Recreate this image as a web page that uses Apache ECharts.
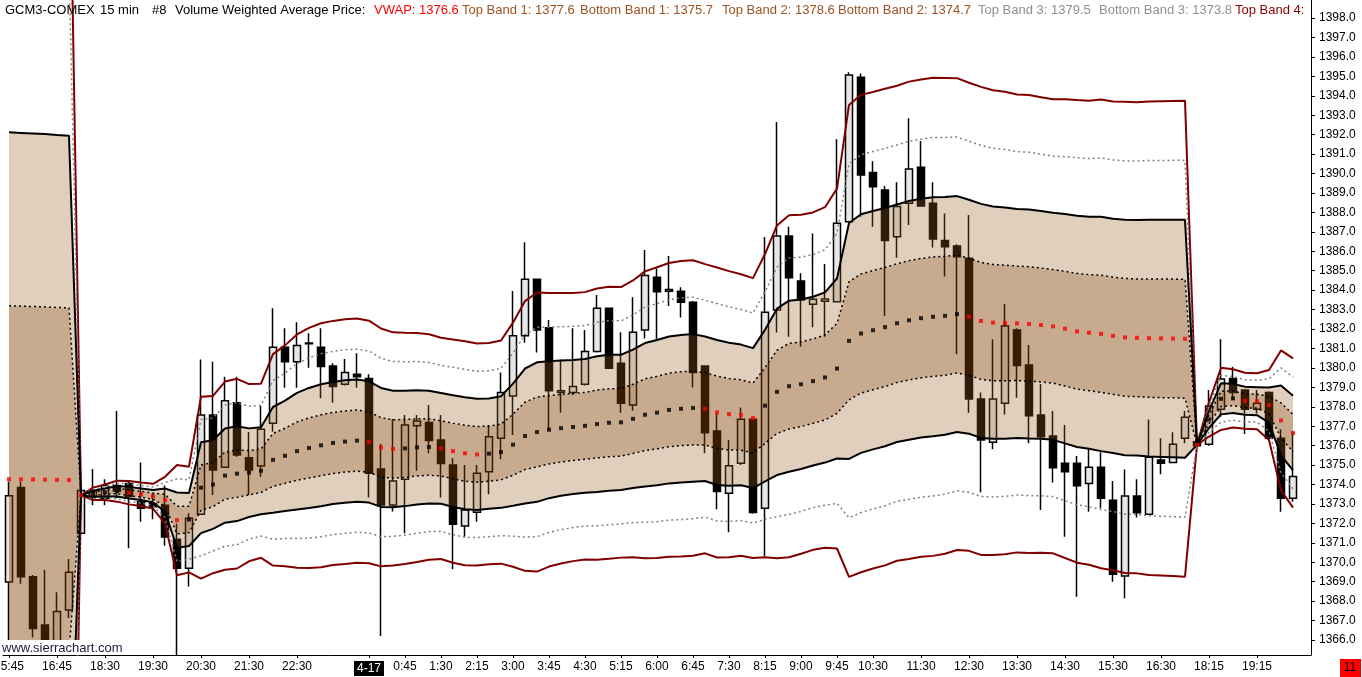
<!DOCTYPE html>
<html><head><meta charset="utf-8">
<script src="https://cdn.jsdelivr.net/npm/echarts@6/dist/echarts.min.js"></script>
<style>html,body{margin:0;padding:0;background:#fff}#c{width:1362px;height:677px}</style>
</head><body><div id="c"></div>
<script>
const times = ['15:45','16:00','16:15','16:30','16:45','17:00','18:00','18:15','18:30','18:45',
'19:00','19:15','19:30','19:45','20:00','20:15','20:30','20:45','21:00','21:15',
'21:30','21:45','22:00','22:15','22:30','22:45','23:00','23:15','23:30','23:45',
'4-17','0:15','0:30','0:45','1:00','1:15','1:30','1:45','2:00','2:15',
'2:30','2:45','3:00','3:15','3:30','3:45','4:00','4:15','4:30','4:45',
'5:00','5:15','5:30','5:45','6:00','6:15','6:30','6:45','7:00','7:15',
'7:30','7:45','8:00','8:15','8:30','8:45','9:00','9:15','9:30','9:45',
'10:00','10:15','10:30','10:45','11:00','11:15','11:30','11:45','12:00','12:15',
'12:30','12:45','13:00','13:15','13:30','13:45','14:00','14:15','14:30','14:45',
'15:00','15:15','15:30','15:45','16:00','16:15','16:30','16:45','17:00','18:00',
'18:15','18:30','18:45','19:00','19:15','19:30','19:45','20:00',''];
const labelIdx = [0,4,8,12,16,20,24,30,33,36,39,42,45,48,51,54,57,60,63,66,69,72,76,80,84,88,92,96,100,104];
const yTicks = [1366,1367,1368,1369,1370,1371,1372,1373,1374,1375,1376,1377,1378,1379,1380,1381,1382,1383,1384,1385,1386,1387,1388,1389,1390,1391,1392,1393,1394,1395,1396,1397,1398];

const opens = [1368.98,1373.85,1369.25,1366.77,1365.9,1367.54,1371.49,1373.4,1373.3,1373.95,
1374.06,1373.12,1373.03,1372.93,1371.18,1369.69,1372.47,1377.58,1374.89,1378.21,
1375.38,1374.95,1377.15,1381.06,1380.32,1381.28,1381.06,1380.1,1379.16,1379.67,
1379.46,1374.8,1372.95,1374.27,1377.03,1377.19,1376.29,1375.01,1371.87,1372.57,
1374.66,1376.38,1378.56,1381.66,1384.56,1382.07,1378.73,1378.73,1379.16,1380.84,
1383.07,1380.24,1378.09,1381.95,1384.66,1383.94,1383.94,1383.38,1380.1,1376.76,
1373.55,1375.09,1377.36,1372.78,1382.98,1386.79,1384.47,1383.27,1383.43,1383.41,
1387.52,1394.95,1390.06,1389.15,1386.75,1388.47,1390.32,1388.47,1386.56,1386.27,
1385.64,1378.4,1376.17,1378.18,1381.95,1380.15,1377.58,1376.5,1375.09,1375.09,
1374.06,1374.89,1373.19,1369.3,1373.41,1372.47,1375.26,1375.14,1376.38,1376.2,
1376.07,1377.87,1379.46,1378.86,1377.87,1378.74,1376.38,1373.29];
const closes = [1373.42,1369.25,1366.59,1365.9,1367.47,1369.49,1373.7,1373.65,1373.95,1373.65,
1373.38,1372.78,1372.86,1371.3,1369.69,1372.26,1377.58,1374.75,1378.31,1375.52,
1374.75,1376.84,1381.06,1380.32,1381.16,1381.25,1380.07,1379.04,1379.76,1379.55,
1374.58,1372.95,1374.18,1377.06,1377.27,1376.26,1375.08,1371.96,1372.69,1374.58,
1376.46,1378.73,1381.66,1384.56,1381.95,1378.83,1378.83,1379.04,1380.84,1383.07,
1379.98,1378.18,1381.83,1384.76,1383.92,1384.04,1383.38,1379.76,1376.67,1373.64,
1374.97,1377.36,1372.56,1382.86,1386.79,1384.64,1383.5,1383.53,1383.55,1387.44,
1395.07,1389.92,1389.32,1386.55,1388.3,1390.23,1388.33,1386.63,1386.24,1385.72,
1378.4,1376.29,1378.4,1382.16,1380.12,1377.54,1376.46,1374.87,1374.66,1373.94,
1374.89,1373.29,1369.38,1373.41,1372.55,1375.4,1375.09,1376.07,1377.46,1376.0,
1378.04,1379.43,1378.74,1377.87,1378.18,1376.38,1373.29,1374.42];
const lows = [1365.2,1368.9,1366.13,1365.3,1365.5,1367.14,1371.45,1372.93,1372.93,1373.3,
1370.72,1372.09,1372.21,1370.85,1365.2,1368.75,1372.45,1373.46,1374.85,1375.43,
1373.46,1374.4,1376.72,1378.98,1378.98,1380.01,1378.44,1378.21,1379.1,1378.98,
1373.33,1366.21,1372.61,1371.49,1374.71,1375.61,1373.33,1369.64,1371.32,1372.09,
1373.5,1375.3,1376.55,1381.3,1380.79,1376.81,1377.7,1378.61,1379.1,1380.8,
1379.95,1377.7,1377.8,1381.52,1381.44,1383.19,1382.6,1378.99,1375.61,1372.73,
1371.54,1375.0,1372.5,1370.33,1381.82,1381.61,1381.09,1382.09,1381.61,1383.4,
1387.5,1387.78,1387.27,1382.67,1385.67,1387.35,1388.3,1386.19,1384.7,1380.7,
1377.7,1373.6,1375.81,1377.61,1378.47,1376.12,1372.69,1374.1,1371.32,1368.23,
1372.6,1372.78,1369.0,1368.15,1372.31,1372.45,1374.53,1375.1,1376.12,1375.85,
1376.0,1377.49,1378.35,1376.6,1377.66,1376.29,1372.6,1373.12];
const highs = [1374.16,1374.16,1369.35,1369.62,1368.46,1370.17,1374.0,1374.8,1374.27,1377.78,
1374.15,1375.14,1373.55,1373.95,1372.0,1372.52,1380.44,1380.32,1379.55,1379.55,
1376.7,1378.04,1383.07,1382.04,1382.35,1381.78,1382.04,1380.24,1380.46,1380.75,
1379.67,1376.09,1377.37,1377.58,1377.58,1378.09,1377.58,1375.35,1375.01,1375.01,
1377.06,1379.77,1383.96,1386.46,1384.6,1382.47,1380.44,1382.04,1381.95,1383.75,
1383.1,1381.83,1383.63,1386.07,1385.12,1385.76,1384.15,1383.44,1380.1,1377.67,
1376.29,1377.97,1377.4,1386.73,1392.65,1387.27,1384.87,1386.92,1385.35,1391.76,
1395.21,1395.15,1390.64,1389.36,1389.55,1392.84,1391.67,1389.55,1387.95,1386.36,
1387.87,1378.74,1381.47,1383.29,1382.04,1381.18,1379.17,1377.78,1377.06,1375.47,
1375.86,1375.66,1374.18,1374.78,1374.27,1377.35,1376.38,1376.69,1377.78,1376.45,
1378.86,1381.47,1380.06,1378.9,1378.86,1378.8,1376.84,1376.69];

const vwap = [1374.28,1374.27,1374.26,1374.25,1374.24,1374.23,1373.45,1373.52,1373.6,1373.66,
1373.58,1373.5,1373.4,1373.2,1372.17,1372.2,1373.84,1374.0,1374.46,1374.56,
1374.61,1374.71,1375.27,1375.48,1375.72,1375.88,1376.02,1376.14,1376.21,1376.26,
1376.19,1375.91,1375.83,1375.86,1375.91,1375.93,1375.86,1375.72,1375.61,1375.55,
1375.59,1375.67,1376.05,1376.5,1376.7,1376.82,1376.9,1376.96,1377.02,1377.11,
1377.18,1377.2,1377.38,1377.59,1377.7,1377.84,1377.9,1377.94,1377.9,1377.71,
1377.62,1377.58,1377.42,1378.06,1378.77,1379.06,1379.16,1379.32,1379.51,1379.97,
1381.39,1381.77,1381.94,1382.1,1382.3,1382.45,1382.56,1382.63,1382.68,1382.77,
1382.63,1382.42,1382.33,1382.31,1382.29,1382.26,1382.21,1382.14,1382.02,1381.88,
1381.81,1381.75,1381.65,1381.57,1381.55,1381.53,1381.52,1381.51,1381.5,1376.04,
1377.35,1378.41,1378.43,1378.31,1378.29,1378.09,1377.3,1376.65];
const band1Top = [1383.2,1383.18,1383.16,1383.14,1383.11,1383.09,1373.45,1373.6,1373.7,1373.8,
1373.73,1373.65,1373.56,1373.5,1372.88,1372.88,1375.01,1375.14,1375.67,1375.78,
1375.75,1375.83,1376.63,1376.9,1377.22,1377.43,1377.59,1377.71,1377.79,1377.83,
1377.75,1377.44,1377.33,1377.35,1377.38,1377.38,1377.28,1377.16,1377.05,1376.98,
1377.01,1377.11,1377.62,1378.24,1378.5,1378.58,1378.64,1378.69,1378.74,1378.86,
1378.93,1378.94,1379.16,1379.44,1379.57,1379.73,1379.8,1379.84,1379.76,1379.58,
1379.46,1379.39,1379.22,1380.01,1380.91,1381.26,1381.34,1381.49,1381.7,1382.29,
1384.43,1384.84,1385.01,1385.17,1385.36,1385.52,1385.63,1385.71,1385.74,1385.81,
1385.64,1385.43,1385.32,1385.29,1385.24,1385.21,1385.14,1385.06,1384.97,1384.86,
1384.8,1384.77,1384.67,1384.6,1384.58,1384.58,1384.57,1384.57,1384.56,1376.04,
1377.57,1378.81,1378.81,1378.67,1378.65,1378.54,1378.2,1377.61];
const band1Bot = [1365.36,1365.36,1365.36,1365.36,1365.37,1365.37,1373.45,1373.44,1373.5,1373.53,
1373.43,1373.35,1373.24,1372.9,1371.46,1371.52,1372.67,1372.86,1373.25,1373.34,
1373.47,1373.59,1373.91,1374.06,1374.22,1374.34,1374.45,1374.57,1374.64,1374.69,
1374.63,1374.38,1374.33,1374.37,1374.44,1374.48,1374.44,1374.29,1374.17,1374.12,
1374.17,1374.24,1374.48,1374.77,1374.91,1375.06,1375.16,1375.24,1375.3,1375.37,
1375.43,1375.46,1375.6,1375.75,1375.83,1375.95,1376.0,1376.04,1376.04,1375.85,
1375.78,1375.77,1375.62,1376.11,1376.63,1376.86,1376.98,1377.15,1377.32,1377.66,
1378.36,1378.7,1378.88,1379.04,1379.25,1379.38,1379.49,1379.56,1379.62,1379.74,
1379.62,1379.41,1379.34,1379.34,1379.35,1379.32,1379.28,1379.22,1379.07,1378.91,
1378.83,1378.74,1378.64,1378.54,1378.52,1378.49,1378.47,1378.46,1378.44,1376.04,
1377.13,1378.01,1378.06,1377.95,1377.93,1377.64,1376.4,1375.69];
const band2Top = [1392.12,1392.09,1392.06,1392.03,1391.98,1391.95,1373.45,1373.68,1373.8,1373.93,
1373.88,1373.8,1373.72,1373.8,1373.59,1373.56,1376.18,1376.28,1376.88,1377.0,
1376.89,1376.95,1377.99,1378.32,1378.72,1378.97,1379.16,1379.28,1379.36,1379.4,
1379.31,1378.97,1378.83,1378.83,1378.85,1378.83,1378.71,1378.59,1378.49,1378.41,
1378.43,1378.54,1379.19,1379.97,1380.29,1380.34,1380.38,1380.41,1380.46,1380.6,
1380.68,1380.68,1380.94,1381.28,1381.44,1381.62,1381.7,1381.74,1381.62,1381.44,
1381.3,1381.2,1381.02,1381.96,1383.05,1383.46,1383.52,1383.66,1383.89,1384.6,
1387.46,1387.91,1388.07,1388.23,1388.41,1388.59,1388.7,1388.78,1388.8,1388.84,
1388.65,1388.44,1388.31,1388.26,1388.18,1388.15,1388.07,1387.98,1387.92,1387.83,
1387.78,1387.78,1387.68,1387.63,1387.61,1387.62,1387.62,1387.62,1387.62,1376.04,
1377.79,1379.21,1379.18,1379.03,1379.01,1378.99,1379.1,1378.57];
const band2Bot = [1356.44,1356.45,1356.46,1356.47,1356.5,1356.51,1373.45,1373.36,1373.4,1373.39,
1373.28,1373.2,1373.08,1372.6,1370.75,1370.84,1371.5,1371.72,1372.04,1372.12,
1372.33,1372.47,1372.55,1372.64,1372.72,1372.79,1372.88,1373.0,1373.06,1373.12,
1373.07,1372.85,1372.83,1372.89,1372.97,1373.03,1373.01,1372.85,1372.73,1372.69,
1372.75,1372.8,1372.91,1373.03,1373.11,1373.3,1373.42,1373.51,1373.58,1373.62,
1373.68,1373.72,1373.82,1373.9,1373.96,1374.06,1374.1,1374.14,1374.18,1373.98,
1373.94,1373.96,1373.82,1374.16,1374.49,1374.66,1374.8,1374.98,1375.13,1375.34,
1375.32,1375.63,1375.81,1375.97,1376.19,1376.31,1376.42,1376.48,1376.56,1376.7,
1376.61,1376.4,1376.35,1376.36,1376.4,1376.37,1376.35,1376.3,1376.12,1375.93,
1375.84,1375.72,1375.62,1375.51,1375.49,1375.44,1375.42,1375.4,1375.38,1376.04,
1376.91,1377.61,1377.68,1377.59,1377.57,1377.19,1375.5,1374.73];
const band3Top = [1401.04,1401.0,1400.96,1400.92,1400.85,1400.81,1373.45,1373.76,1373.9,1374.07,
1374.03,1373.95,1373.88,1374.1,1374.3,1374.24,1377.35,1377.42,1378.09,1378.22,
1378.03,1378.07,1379.35,1379.74,1380.22,1380.52,1380.73,1380.85,1380.94,1380.97,
1380.87,1380.5,1380.33,1380.32,1380.33,1380.28,1380.13,1380.03,1379.93,1379.83,
1379.86,1379.98,1380.76,1381.71,1382.09,1382.1,1382.12,1382.14,1382.18,1382.35,
1382.43,1382.42,1382.72,1383.13,1383.31,1383.51,1383.6,1383.64,1383.48,1383.31,
1383.14,1383.01,1382.82,1383.91,1385.19,1385.66,1385.7,1385.83,1386.08,1386.92,
1390.5,1390.98,1391.14,1391.3,1391.47,1391.66,1391.77,1391.86,1391.86,1391.88,
1391.66,1391.45,1391.3,1391.24,1391.13,1391.1,1391.0,1390.9,1390.87,1390.81,
1390.77,1390.8,1390.7,1390.66,1390.64,1390.67,1390.67,1390.68,1390.68,1376.04,
1378.01,1379.61,1379.56,1379.39,1379.37,1379.44,1380.0,1379.53];
const band3Bot = [1347.52,1347.54,1347.56,1347.58,1347.63,1347.65,1373.45,1373.28,1373.3,1373.26,
1373.13,1373.05,1372.92,1372.3,1370.04,1370.16,1370.33,1370.58,1370.83,1370.9,
1371.19,1371.35,1371.19,1371.22,1371.22,1371.25,1371.31,1371.43,1371.49,1371.55,
1371.51,1371.32,1371.33,1371.4,1371.49,1371.58,1371.59,1371.42,1371.29,1371.27,
1371.32,1371.37,1371.34,1371.3,1371.32,1371.54,1371.68,1371.79,1371.86,1371.88,
1371.93,1371.98,1372.04,1372.06,1372.09,1372.17,1372.2,1372.24,1372.32,1372.12,
1372.1,1372.15,1372.02,1372.21,1372.35,1372.46,1372.62,1372.81,1372.94,1373.03,
1372.29,1372.56,1372.75,1372.91,1373.14,1373.24,1373.35,1373.41,1373.5,1373.67,
1373.6,1373.39,1373.36,1373.39,1373.46,1373.43,1373.42,1373.38,1373.17,1372.96,
1372.86,1372.71,1372.61,1372.48,1372.46,1372.4,1372.37,1372.35,1372.32,1376.04,
1376.69,1377.21,1377.31,1377.23,1377.21,1376.74,1374.6,1373.77];
const band4Top = [1409.96,1409.91,1409.86,1409.81,1409.72,1409.67,1373.45,1373.84,1374.0,1374.2,
1374.18,1374.1,1374.04,1374.4,1375.01,1374.92,1378.52,1378.56,1379.3,1379.44,
1379.17,1379.19,1380.71,1381.16,1381.72,1382.06,1382.3,1382.42,1382.51,1382.54,
1382.43,1382.03,1381.83,1381.81,1381.8,1381.73,1381.55,1381.46,1381.37,1381.26,
1381.28,1381.41,1382.33,1383.44,1383.88,1383.86,1383.86,1383.86,1383.9,1384.09,
1384.18,1384.16,1384.5,1384.97,1385.18,1385.4,1385.5,1385.54,1385.34,1385.17,
1384.98,1384.82,1384.62,1385.86,1387.33,1387.86,1387.88,1388.0,1388.27,1389.23,
1393.53,1394.05,1394.2,1394.36,1394.52,1394.73,1394.84,1394.93,1394.92,1394.91,
1394.67,1394.46,1394.29,1394.21,1394.07,1394.04,1393.93,1393.82,1393.82,1393.78,
1393.75,1393.81,1393.71,1393.69,1393.67,1393.71,1393.72,1393.73,1393.74,1376.04,
1378.23,1380.01,1379.93,1379.75,1379.73,1379.89,1380.9,1380.49];
const band4Bot = [1338.6,1338.63,1338.66,1338.69,1338.76,1338.79,1373.45,1373.2,1373.2,1373.12,
1372.98,1372.9,1372.76,1372.0,1369.33,1369.48,1369.16,1369.44,1369.62,1369.68,
1370.05,1370.23,1369.83,1369.8,1369.72,1369.7,1369.74,1369.86,1369.91,1369.98,
1369.95,1369.79,1369.83,1369.91,1370.02,1370.13,1370.17,1369.98,1369.85,1369.84,
1369.9,1369.93,1369.77,1369.56,1369.52,1369.78,1369.94,1370.06,1370.14,1370.13,
1370.18,1370.24,1370.26,1370.21,1370.22,1370.28,1370.3,1370.34,1370.46,1370.25,
1370.26,1370.34,1370.22,1370.26,1370.21,1370.26,1370.44,1370.64,1370.75,1370.71,
1369.25,1369.49,1369.68,1369.84,1370.08,1370.17,1370.28,1370.33,1370.44,1370.63,
1370.59,1370.38,1370.37,1370.41,1370.51,1370.48,1370.49,1370.46,1370.22,1369.98,
1369.87,1369.69,1369.59,1369.45,1369.43,1369.35,1369.32,1369.29,1369.26,1376.04,
1376.47,1376.81,1376.93,1376.87,1376.85,1376.29,1373.7,1372.81];

const FONT = '"Liberation Sans", Arial, sans-serif';
const chart = echarts.init(document.getElementById('c'), null, {renderer: 'canvas'});
const candleData = opens.map((o, i) => [o, closes[i], lows[i], highs[i]]);
const diff = (a, b) => a.map((v, i) => +(v - b[i]).toFixed(4));
const lastClose = closes[closes.length - 1];

function fillSeries(name, data, color) {
  return {name, type: 'line', stack: 'band', data, symbol: 'none', silent: true, z: 3,
    lineStyle: {width: 0, opacity: 0}, areaStyle: color ? {color, opacity: 1} : undefined, animation: false};
}
function bandLine(data, color, width, type) {
  return {type: 'line', data, symbol: 'none', silent: true, z: 4, animation: false,
    lineStyle: {color, width, type}};
}
const OUTER = 'rgba(152,95,34,0.30)';
const INNER = 'rgba(130,62,0,0.44)';

const titleParts = [
  [5, 'GCM3-COMEX', '#000'], [100, '15 min', '#000'], [152, '#8', '#000'],
  [175, 'Volume Weighted Average Price:', '#000'], [374, 'VWAP: 1376.6', '#ff0000'],
  [462, 'Top Band 1: 1377.6', '#9c5320'], [580, 'Bottom Band 1: 1375.7', '#9c5320'],
  [722, 'Top Band 2: 1378.6', '#9c5320'], [838, 'Bottom Band 2: 1374.7', '#9c5320'],
  [978, 'Top Band 3: 1379.5', '#909090'], [1099, 'Bottom Band 3: 1373.8', '#909090'],
  [1235, 'Top Band 4:', '#8b0000']
];
const graphics = titleParts.map(p => ({type: 'text', x: p[0], y: 10, z: 100,
  style: {text: p[1], fill: p[2], font: '13px ' + FONT, verticalAlign: 'middle'}}));
graphics.push({type: 'rect', shape: {x: 0, y: 640, width: 123, height: 15}, style: {fill: '#fff'}, z: 100});
graphics.push({type: 'text', x: 2, y: 648, z: 101, style: {text: 'www.sierrachart.com', fill: '#1a1a40', font: '13px ' + FONT, verticalAlign: 'middle'}});
graphics.push({type: 'rect', shape: {x: 1340, y: 659, width: 21, height: 18}, style: {fill: '#ff0000'}, z: 100});
graphics.push({type: 'text', x: 1350, y: 668, z: 101, style: {text: '11', fill: '#000', font: '12px ' + FONT, align: 'center', verticalAlign: 'middle'}});

const option = {
  animation: false,
  backgroundColor: '#fff',
  grid: {left: 3, right: 51, top: 0, bottom: 22, containLabel: false, outerBoundsMode: 'none'},
  xAxis: {
    type: 'category', data: times, boundaryGap: true,
    axisLine: {lineStyle: {color: '#000', width: 1}},
    axisTick: {show: true, alignWithLabel: true, length: 3, interval: (i) => labelIdx.includes(i), lineStyle: {color: '#000'}},
    axisLabel: {
      interval: (i) => labelIdx.includes(i), color: '#000', fontSize: 12, fontFamily: FONT, margin: 6,
      formatter: (v, i) => v === '4-17' ? '{d|4-17}' : v,
      rich: {d: {backgroundColor: '#000', color: '#fff', padding: [2, 3, 1, 3], fontSize: 12, fontFamily: FONT}}
    },
    splitLine: {show: false}
  },
  yAxis: {
    type: 'value', position: 'right', min: 1365.23, max: 1398.93, scale: true,
    axisLine: {show: true, lineStyle: {color: '#000', width: 1}},
    axisTick: {show: true, length: 4, customValues: yTicks, lineStyle: {color: '#000'}},
    axisLabel: {color: '#000', fontSize: 12, fontFamily: FONT, margin: 8, customValues: yTicks,
      formatter: (v) => v.toFixed(1)},
    splitLine: {show: false}
  },
  graphic: graphics,
  series: [
    {type: 'candlestick', data: candleData, barWidth: 7, z: 2, silent: true,
     itemStyle: {color: '#e6e6e6', color0: '#000', borderColor: '#000', borderColor0: '#000', borderWidth: 1.5},
     markLine: {symbol: ['none', 'none'], silent: true, animation: false,
       lineStyle: {opacity: 0},
       label: {show: true, position: 'end', distance: 2, formatter: lastClose.toFixed(1), color: '#fff',
         backgroundColor: '#0000ff', padding: [3, 4, 2, 4], fontSize: 12, fontFamily: FONT},
       data: [{yAxis: lastClose}]}},
    fillSeries('base', band2Bot, null),
    fillSeries('lowOuter', diff(band1Bot, band2Bot), OUTER),
    fillSeries('inner', diff(band1Top, band1Bot), INNER),
    fillSeries('upOuter', diff(band2Top, band1Top), OUTER),
    bandLine(band4Top, '#800000', 2, 'solid'),
    bandLine(band4Bot, '#800000', 2, 'solid'),
    bandLine(band3Top, '#808080', 1.5, [2, 3]),
    bandLine(band3Bot, '#808080', 1.5, [2, 3]),
    bandLine(band2Top, '#000', 2, 'solid'),
    bandLine(band2Bot, '#000', 2, 'solid'),
    bandLine(band1Top, '#000', 1.5, [2, 3]),
    bandLine(band1Bot, '#000', 1.5, [2, 3]),
    {type: 'scatter', data: vwap, symbol: 'rect', symbolSize: 4, z: 5, silent: true,
     itemStyle: {color: (p) => (p.dataIndex === 0 || vwap[p.dataIndex] < vwap[p.dataIndex - 1]) ? '#ff0000' : '#000'}}
  ]
};
chart.setOption(option);
</script>
</body></html>
